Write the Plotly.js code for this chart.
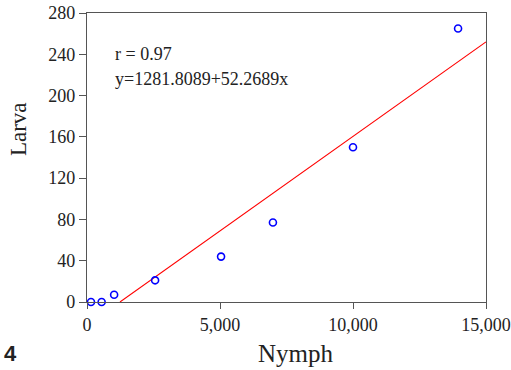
<!DOCTYPE html>
<html>
<head>
<meta charset="utf-8">
<script src="https://cdn.plot.ly/plotly-3.0.1.min.js"></script>
<style>html,body{margin:0;padding:0;background:#fff;}#chart{width:511px;height:370px;}</style>
</head>
<body>
<div id="chart"></div>
<script>
// Observed points (Nymph vs Larva)
const nymph = [150, 550, 1020, 2560, 5040, 6990, 10000, 13950];
const larva = [0, 0, 7, 21, 44, 77, 150, 265];
// Fitted regression line endpoints (as drawn)
const fitNymph = [1240, 15000];
const fitLarva = [0, 252];
// Axis ticks
const xTicks = [0, 5000, 10000, 15000];
const xTickLabels = ["0", "5,000", "10,000", "15,000"];
const yTicks = [0, 40, 80, 120, 160, 200, 240, 280];
// Text
const statR = "r = 0.97";
const statEq = "y=1281.8089+52.2689x";
const xTitle = "Nymph";
const yTitle = "Larva";
const panelLabel = "4";

const serif = "Liberation Serif, Times New Roman, serif";

const traces = [
  {x: fitNymph, y: fitLarva, mode: "lines", type: "scatter",
   line: {color: "#ff0000", width: 1.1}, hoverinfo: "skip"},
  {x: nymph, y: larva, mode: "markers", type: "scatter", cliponaxis: false,
   marker: {symbol: "circle-open", size: 7, color: "#0000ff", line: {color: "#0000ff", width: 1.6}}}
];

const layout = {
  width: 511, height: 370,
  margin: {l: 87, r: 25, t: 13, b: 68, pad: 0},
  paper_bgcolor: "#fff", plot_bgcolor: "#fff",
  showlegend: false,
  font: {family: serif, size: 18, color: "#222"},
  xaxis: {
    range: [0, 15000], tickvals: xTicks, ticktext: xTickLabels,
    showgrid: false, zeroline: false, showline: true, mirror: true,
    linecolor: "#555", linewidth: 1.2, ticks: "outside", ticklen: 6, tickcolor: "#555",
    tickfont: {family: serif, size: 18, color: "#222"}
  },
  yaxis: {
    range: [0, 280], tickvals: yTicks,
    showgrid: false, zeroline: false, showline: true, mirror: true,
    linecolor: "#555", linewidth: 1.2, ticks: "outside", ticklen: 7, tickcolor: "#555",
    tickfont: {family: serif, size: 18, color: "#222"}
  },
  annotations: [
    {xref: "x", yref: "y", x: 977, y: 240, xanchor: "left", yanchor: "middle",
     text: statR, showarrow: false, font: {family: serif, size: 18, color: "#222"}},
    {xref: "x", yref: "y", x: 977, y: 216, xanchor: "left", yanchor: "middle",
     text: statEq, showarrow: false, font: {family: serif, size: 18, color: "#222"}},
    {xref: "paper", yref: "paper", x: -0.170, y: 0.599, xanchor: "center", yanchor: "middle",
     textangle: -90, text: yTitle, showarrow: false, font: {family: serif, size: 23, color: "#222"}},
    {xref: "paper", yref: "paper", x: 0.524, y: -0.177, xanchor: "center", yanchor: "middle",
     text: xTitle, showarrow: false, font: {family: serif, size: 25, color: "#222"}},
    {xref: "paper", yref: "paper", x: -0.213, y: -0.229, xanchor: "left", yanchor: "bottom",
     text: "<b>" + panelLabel + "</b>", showarrow: false, font: {family: "Liberation Sans, Arial, sans-serif", size: 22, color: "#222"}}
  ]
};

Plotly.newPlot("chart", traces, layout, {displayModeBar: false, staticPlot: true});
</script>
</body>
</html>
